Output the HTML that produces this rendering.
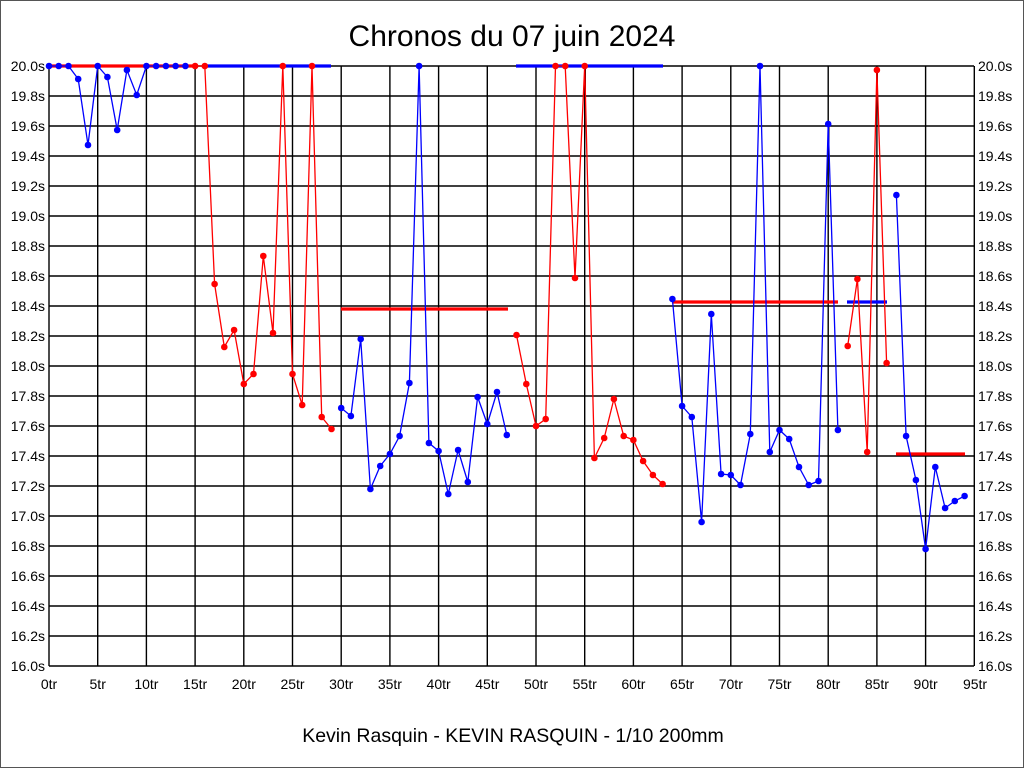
<!DOCTYPE html>
<html><head><meta charset="utf-8"><style>
html,body{margin:0;padding:0;background:#fff}
svg{display:block}
text{font-family:"Liberation Sans",Arial,sans-serif}
</style></head><body>
<svg width="1024" height="768" viewBox="0 0 1024 768" xmlns="http://www.w3.org/2000/svg">
<defs>
<marker id="mb" markerWidth="8" markerHeight="8" refX="4" refY="4" markerUnits="userSpaceOnUse"><circle cx="4" cy="4" r="3.3" fill="#0000ff"/></marker>
<marker id="mr" markerWidth="8" markerHeight="8" refX="4" refY="4" markerUnits="userSpaceOnUse"><circle cx="4" cy="4" r="3.3" fill="#ff0000"/></marker>
</defs>
<rect x="0.5" y="0.5" width="1023" height="767" fill="#fff" stroke="#555"/>
<text x="512" y="46" font-size="30" text-anchor="middle">Chronos du 07 juin 2024</text>
<text x="513" y="742" font-size="19.5" text-anchor="middle">Kevin Rasquin - KEVIN RASQUIN - 1/10 200mm</text>
<g stroke="#000" stroke-width="1.4">
<path d="M49 66H974M49 96H974M49 126H974M49 156H974M49 186H974M49 216H974M49 246H974M49 276H974M49 306H974M49 336H974M49 366H974M49 396H974M49 426H974M49 456H974M49 486H974M49 516H974M49 546H974M49 576H974M49 606H974M49 636H974M49 666H974"/>
<path d="M49 66V666M97.7 66V666M146.4 66V666M195.1 66V666M243.8 66V666M292.5 66V666M341.2 66V666M389.9 66V666M438.6 66V666M487.3 66V666M536 66V666M584.7 66V666M633.4 66V666M682.1 66V666M730.8 66V666M779.5 66V666M828.2 66V666M876.9 66V666M925.6 66V666M974.3 66V666"/>
</g>
<g font-size="14" text-anchor="end">
<text x="45" y="71">20.0s</text><text x="45" y="101">19.8s</text><text x="45" y="131">19.6s</text><text x="45" y="161">19.4s</text><text x="45" y="191">19.2s</text><text x="45" y="221">19.0s</text><text x="45" y="251">18.8s</text><text x="45" y="281">18.6s</text><text x="45" y="311">18.4s</text><text x="45" y="341">18.2s</text><text x="45" y="371">18.0s</text><text x="45" y="401">17.8s</text><text x="45" y="431">17.6s</text><text x="45" y="461">17.4s</text><text x="45" y="491">17.2s</text><text x="45" y="521">17.0s</text><text x="45" y="551">16.8s</text><text x="45" y="581">16.6s</text><text x="45" y="611">16.4s</text><text x="45" y="641">16.2s</text><text x="45" y="671">16.0s</text>
</g>
<g font-size="14" text-anchor="start">
<text x="978" y="71">20.0s</text><text x="978" y="101">19.8s</text><text x="978" y="131">19.6s</text><text x="978" y="161">19.4s</text><text x="978" y="191">19.2s</text><text x="978" y="221">19.0s</text><text x="978" y="251">18.8s</text><text x="978" y="281">18.6s</text><text x="978" y="311">18.4s</text><text x="978" y="341">18.2s</text><text x="978" y="371">18.0s</text><text x="978" y="401">17.8s</text><text x="978" y="431">17.6s</text><text x="978" y="461">17.4s</text><text x="978" y="491">17.2s</text><text x="978" y="521">17.0s</text><text x="978" y="551">16.8s</text><text x="978" y="581">16.6s</text><text x="978" y="611">16.4s</text><text x="978" y="641">16.2s</text><text x="978" y="671">16.0s</text>
</g>
<g font-size="14" text-anchor="middle">
<text x="49" y="689">0tr</text><text x="97.7" y="689">5tr</text><text x="146.4" y="689">10tr</text><text x="195.1" y="689">15tr</text><text x="243.8" y="689">20tr</text><text x="292.5" y="689">25tr</text><text x="341.2" y="689">30tr</text><text x="389.9" y="689">35tr</text><text x="438.6" y="689">40tr</text><text x="487.3" y="689">45tr</text><text x="536" y="689">50tr</text><text x="584.7" y="689">55tr</text><text x="633.4" y="689">60tr</text><text x="682.1" y="689">65tr</text><text x="730.8" y="689">70tr</text><text x="779.5" y="689">75tr</text><text x="828.2" y="689">80tr</text><text x="876.9" y="689">85tr</text><text x="925.6" y="689">90tr</text><text x="975" y="689">95tr</text>
</g>
<g stroke-width="3.2">
<path d="M49 66H197" stroke="#ff0000"/>
<path d="M205 66H331" stroke="#0000ff"/>
<path d="M341 309H508" stroke="#ff0000"/>
<path d="M516 66H663" stroke="#0000ff"/>
<path d="M672 302H838" stroke="#ff0000"/>
<path d="M847 302H887" stroke="#0000ff"/>
<path d="M896 454H965" stroke="#ff0000"/>
</g>
<g stroke="#000" stroke-width="2"><path d="M585 66V95M828.5 124V150M877 70V100"/></g>
<g fill="none" stroke-width="1.3">
<polyline stroke="#0000ff" marker-start="url(#mb)" marker-mid="url(#mb)" marker-end="url(#mb)" points="49,66 58.7,66 68.5,66 78.2,79 88,145 97.7,66 107.4,77 117.2,130 126.9,70 136.7,95 146.4,66 156.1,66 165.9,66 175.6,66 185.4,66"/>
<polyline stroke="#ff0000" marker-start="url(#mr)" marker-mid="url(#mr)" marker-end="url(#mr)" points="195.1,66 204.8,66 214.6,284 224.3,347 234.1,330 243.8,384 253.5,374 263.3,256 273,333 282.8,66 292.5,374 302.2,405 312,66 321.7,417 331.5,429"/>
<polyline stroke="#0000ff" marker-start="url(#mb)" marker-mid="url(#mb)" marker-end="url(#mb)" points="341.2,408 350.9,416 360.7,339 370.4,489 380.2,466 389.9,454 399.6,436 409.4,383 419.1,66 428.9,443 438.6,451 448.3,494 458.1,450 467.8,482 477.6,397 487.3,424 497,392 506.8,435"/>
<polyline stroke="#ff0000" marker-start="url(#mr)" marker-mid="url(#mr)" marker-end="url(#mr)" points="516.5,335 526.3,384 536,426 545.7,419 555.5,66 565.2,66 575,278 584.7,66 594.4,458 604.2,438 613.9,399 623.7,436 633.4,440 643.1,461 652.9,475 662.6,484"/>
<polyline stroke="#0000ff" marker-start="url(#mb)" marker-mid="url(#mb)" marker-end="url(#mb)" points="672.4,299 682.1,406 691.8,417 701.6,522 711.3,314 721.1,474 730.8,475 740.5,485 750.3,434 760,66 769.8,452 779.5,430 789.2,439 799,467 808.7,485 818.5,481 828.2,124 837.9,430"/>
<polyline stroke="#ff0000" marker-start="url(#mr)" marker-mid="url(#mr)" marker-end="url(#mr)" points="847.7,346 857.4,279 867.2,452 876.9,70 886.6,363"/>
<polyline stroke="#0000ff" marker-start="url(#mb)" marker-mid="url(#mb)" marker-end="url(#mb)" points="896.4,195 906.1,436 915.9,480 925.6,549 935.3,467 945.1,508 954.8,501 964.6,496"/>
</g>
</svg>
</body></html>
